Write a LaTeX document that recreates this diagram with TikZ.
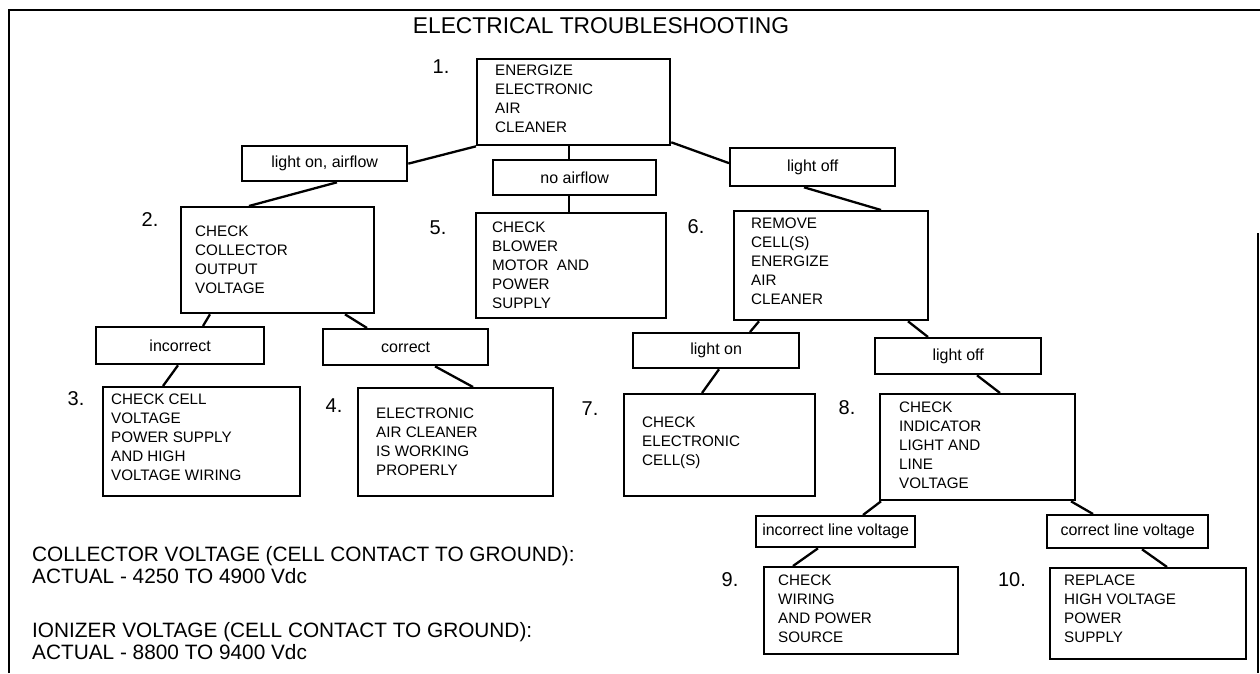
\documentclass[tikz,border=0pt]{standalone}
\usepackage{fontspec}
\setmainfont{Liberation Sans}
\usetikzlibrary{calc}
\begin{document}
\begin{tikzpicture}[x=1pt,y=-1pt,
  ln/.style={line width=2.3pt},
  frame/.style={line width=1.5pt},
  box/.style={draw, line width=2.3pt, rectangle, inner sep=0pt, anchor=north west},
  lbl/.style={box, font=\fontsize{16}{18}\selectfont},
  btxt/.style={anchor=north west, inner sep=0pt, align=left, font=\fontsize{15.2}{19}\selectfont},
  num/.style={anchor=center, inner sep=0pt, font=\fontsize{20}{22}\selectfont},
  note/.style={anchor=north west, inner sep=0pt, align=left, font=\fontsize{20.8}{22}\selectfont},
  ]
\useasboundingbox (0,0) rectangle (1260,673);
% frame
\coordinate (ftl) at (9,10);
\coordinate (ftr) at (1260,10);
\coordinate (fbl) at (9,673);
\coordinate (frt) at (1258,233);
\coordinate (frb) at (1258,673);
\draw[frame] (fbl) -- (ftl) -- (ftr);
\draw[frame] (frt) -- (frb);

\node[inner sep=0pt, font=\fontsize{22.8}{26}\selectfont] (title) at (601,26) {ELECTRICAL TROUBLESHOOTING};

% boxes
\node[box, minimum width=193, minimum height=86] (b1) at (476,58) {};
\node[btxt] (t1) at ([xshift=19pt,yshift=-6.5pt]b1.north west) {ENERGIZE\\ELECTRONIC\\AIR\\CLEANER};
\node[lbl, minimum width=165, minimum height=35] (la) at (241,145) {light on, airflow};
\node[lbl, minimum width=163, minimum height=35] (lb) at (492,159) {no airflow};
\node[lbl, minimum width=165, minimum height=38] (lc) at (729,147) {light off};

\node[box, minimum width=193, minimum height=106] (b2) at (180,206) {};
\node[btxt] (t2) at ([xshift=15pt,yshift=-19.5pt]b2.north west) {CHECK\\COLLECTOR\\OUTPUT\\VOLTAGE};
\node[box, minimum width=190, minimum height=105] (b5) at (475,212) {};
\node[btxt] (t5) at ([xshift=17pt,yshift=-9.5pt]b5.north west) {CHECK\\BLOWER\\MOTOR~ AND\\POWER\\SUPPLY};
\node[box, minimum width=194, minimum height=109] (b6) at (733,210) {};
\node[btxt] (t6) at ([xshift=18pt,yshift=-7.5pt]b6.north west) {REMOVE\\CELL(S)\\ENERGIZE\\AIR\\CLEANER};

\node[lbl, minimum width=168, minimum height=37] (ld) at (95,326) {incorrect};
\node[lbl, minimum width=165, minimum height=36] (le) at (322,328) {correct};
\node[lbl, minimum width=166, minimum height=35] (lf) at (632,332) {light on};
\node[lbl, minimum width=166, minimum height=36] (lg) at (874,337) {light off};

\node[box, minimum width=197, minimum height=109] (b3) at (102,386) {};
\node[btxt] (t3) at ([xshift=9pt,yshift=-7.5pt]b3.north west) {CHECK CELL\\VOLTAGE\\POWER SUPPLY\\AND HIGH\\VOLTAGE WIRING};
\node[box, minimum width=195, minimum height=108] (b4) at (357,387) {};
\node[btxt] (t4) at ([xshift=19pt,yshift=-20.5pt]b4.north west) {ELECTRONIC\\AIR CLEANER\\IS WORKING\\PROPERLY};
\node[box, minimum width=191, minimum height=102] (b7) at (623,393) {};
\node[btxt] (t7) at ([xshift=19pt,yshift=-23.5pt]b7.north west) {CHECK\\ELECTRONIC\\CELL(S)};
\node[box, minimum width=195, minimum height=106] (b8) at (879,393) {};
\node[btxt] (t8) at ([xshift=20pt,yshift=-8.5pt]b8.north west) {CHECK\\INDICATOR\\LIGHT AND\\LINE\\VOLTAGE};

\node[lbl, minimum width=159, minimum height=31] (lh) at (755,515) {incorrect line voltage};
\node[lbl, minimum width=161, minimum height=33] (li) at (1046,514) {correct line voltage};

\node[box, minimum width=194, minimum height=87] (b9) at (763,566) {};
\node[btxt] (t9) at ([xshift=15pt,yshift=-8.5pt]b9.north west) {CHECK\\WIRING\\AND POWER\\SOURCE};
\node[box, minimum width=196, minimum height=91] (b10) at (1049,567) {};
\node[btxt] (t10) at ([xshift=15pt,yshift=-7.5pt]b10.north west) {REPLACE\\HIGH VOLTAGE\\POWER\\SUPPLY};

% step numbers
\node[num] (n1) at (441,67) {1.};
\node[num] (n2) at (150,220) {2.};
\node[num] (n3) at (76,399) {3.};
\node[num] (n4) at (334,406) {4.};
\node[num] (n5) at (438,228) {5.};
\node[num] (n6) at (696,227) {6.};
\node[num] (n7) at (590,409) {7.};
\node[num] (n8) at (847,408) {8.};
\node[num] (n9) at (730,580) {9.};
\node[num] (n10) at (1012,580) {10.};

% connectors
\draw[ln] (b1.south west) -- (la.east);
\draw[ln] ([xshift=93pt]b1.south west) -- ([xshift=77pt]lb.north west);
\draw[ln] ([xshift=77pt]lb.south west) -- ([xshift=94pt]b5.north west);
\draw[ln] ([yshift=4pt]b1.south east) -- ([yshift=4pt]lc.west);
\draw[ln] ([xshift=96pt]la.south west) -- ([xshift=69pt]b2.north west);
\draw[ln] ([xshift=75pt]lc.south west) -- ([xshift=148pt]b6.north west);
\draw[ln] ([xshift=30pt]b2.south west) -- ([xshift=108pt]ld.north west);
\draw[ln] ([xshift=165pt]b2.south west) -- ([xshift=45pt]le.north west);
\draw[ln] ([xshift=83pt]ld.south west) -- ([xshift=61pt]b3.north west);
\draw[ln] ([xshift=113pt]le.south west) -- ([xshift=116pt]b4.north west);
\draw[ln] ([xshift=26pt]b6.south west) -- ([xshift=118pt]lf.north west);
\draw[ln] ([xshift=175pt]b6.south west) -- ([xshift=54pt]lg.north west);
\draw[ln] ([xshift=87pt]lf.south west) -- ([xshift=79pt]b7.north west);
\draw[ln] ([xshift=103pt]lg.south west) -- ([xshift=121pt]b8.north west);
\draw[ln] ([xshift=2pt]b8.south west) -- ([xshift=108pt]lh.north west);
\draw[ln] ([xshift=192pt]b8.south west) -- ([xshift=47pt]li.north west);
\draw[ln] ([xshift=63pt]lh.south west) -- ([xshift=30pt]b9.north west);
\draw[ln] ([xshift=96pt]li.south west) -- ([xshift=118pt]b10.north west);

% notes
\node[note] (c1) at (32,546.5) {COLLECTOR VOLTAGE (CELL CONTACT TO GROUND):\\ACTUAL - 4250 TO 4900 Vdc};
\node[note] (c2) at (32,622.5) {IONIZER VOLTAGE (CELL CONTACT TO GROUND):\\ACTUAL - 8800 TO 9400 Vdc};
\end{tikzpicture}
\end{document}
